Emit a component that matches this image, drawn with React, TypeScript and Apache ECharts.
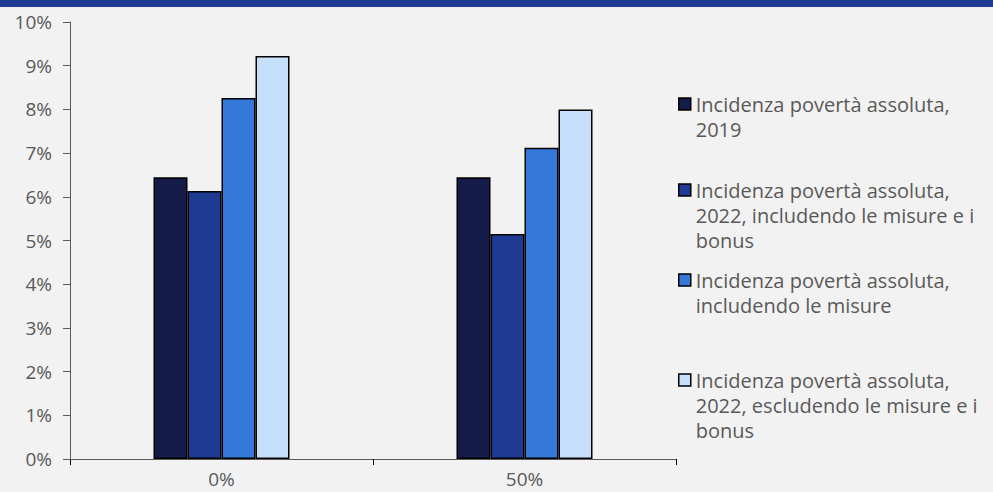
import React, { useEffect, useRef } from "react";
import * as echarts from "echarts";

const categories = ["0%", "50%"];
const seriesNames = [
  "Incidenza povertà assoluta, 2019",
  "Incidenza povertà assoluta, 2022, includendo le misure e i bonus",
  "Incidenza povertà assoluta, includendo le misure",
  "Incidenza povertà assoluta, 2022, escludendo le misure e i bonus",
];
const legendLines = [
  ["Incidenza povertà assoluta,", "2019"],
  ["Incidenza povertà assoluta,", "2022, includendo le misure e i", "bonus"],
  ["Incidenza povertà assoluta,", "includendo le misure"],
  ["Incidenza povertà assoluta,", "2022, escludendo le misure e i", "bonus"],
];
const values2019 = [6.45, 6.45];
const valuesInclBonus = [6.13, 5.15];
const valuesInclMisure = [8.26, 7.12];
const valuesExcl = [9.22, 8.0];
const seriesValues = [values2019, valuesInclBonus, valuesInclMisure, valuesExcl];
const yTicks = { min: 0, max: 10, interval: 1 };

const colors = ["#141b48", "#1f3a93", "#3479d9", "#c6e0fb"];
const legendIconCenters = [104, 190, 280, 380];
const LINE_H = 25;
const FONT = "'Open Sans', Roboto, sans-serif";
const TEXT_COLOR = "#595959";

export default function App() {
  const ref = useRef<HTMLDivElement>(null);
  useEffect(() => {
    document.body.style.margin = "0";
    document.body.style.background = "#f2f2f2";
    const chart = echarts.init(ref.current!, undefined, { renderer: "svg" });
    const legends = seriesNames.map((name, i) => {
      const n = legendLines[i].length;
      const text = "\n".repeat(n - 1) + legendLines[i].join("\n");
      return {
        data: [name],
        left: 678,
        top: legendIconCenters[i] - ((2 * n - 1) * LINE_H) / 2,
        padding: 0,
        orient: "vertical",
        icon: "rect",
        itemWidth: 12,
        itemHeight: 12,
        selectedMode: false,
        itemStyle: { borderColor: "#000", borderWidth: 1.5 },
        formatter: () => text,
        textStyle: {
          fontFamily: FONT,
          fontSize: 20,
          color: TEXT_COLOR,
          lineHeight: LINE_H,
        },
      };
    });
    chart.setOption({
      animation: false,
      backgroundColor: "#f2f2f2",
      textStyle: { fontFamily: FONT },
      graphic: [
        {
          type: "rect",
          left: 0,
          top: 0,
          shape: { width: 993, height: 7 },
          style: { fill: "#1f3a93" },
        },
      ],
      grid: { left: 70, right: 317, top: 22, bottom: 33, containLabel: false },
      legend: legends,
      xAxis: {
        type: "category",
        data: categories,
        axisLine: { lineStyle: { color: "#595959", width: 1 } },
        axisTick: { show: true, length: 6, lineStyle: { color: "#000" } },
        axisLabel: {
          color: TEXT_COLOR,
          fontSize: 19,
          lineHeight: 19,
          fontFamily: FONT,
          margin: 10,
        },
      },
      yAxis: {
        type: "value",
        min: yTicks.min,
        max: yTicks.max,
        interval: yTicks.interval,
        splitLine: { show: false },
        axisLine: { show: true, lineStyle: { color: "#595959", width: 1 } },
        axisTick: { show: true, length: 7, lineStyle: { color: "#595959" } },
        axisLabel: {
          color: TEXT_COLOR,
          fontSize: 19,
          fontFamily: FONT,
          margin: 18,
          formatter: "{value}%",
        },
      },
      series: seriesNames.map((name, i) => ({
        name,
        type: "bar",
        data: seriesValues[i],
        barWidth: 34,
        barGap: "0%",
        itemStyle: { color: colors[i], borderColor: "#000", borderWidth: 1.5 },
      })),
    });
    return () => chart.dispose();
  }, []);
  return <div ref={ref} style={{ width: 993, height: 492 }} />;
}
